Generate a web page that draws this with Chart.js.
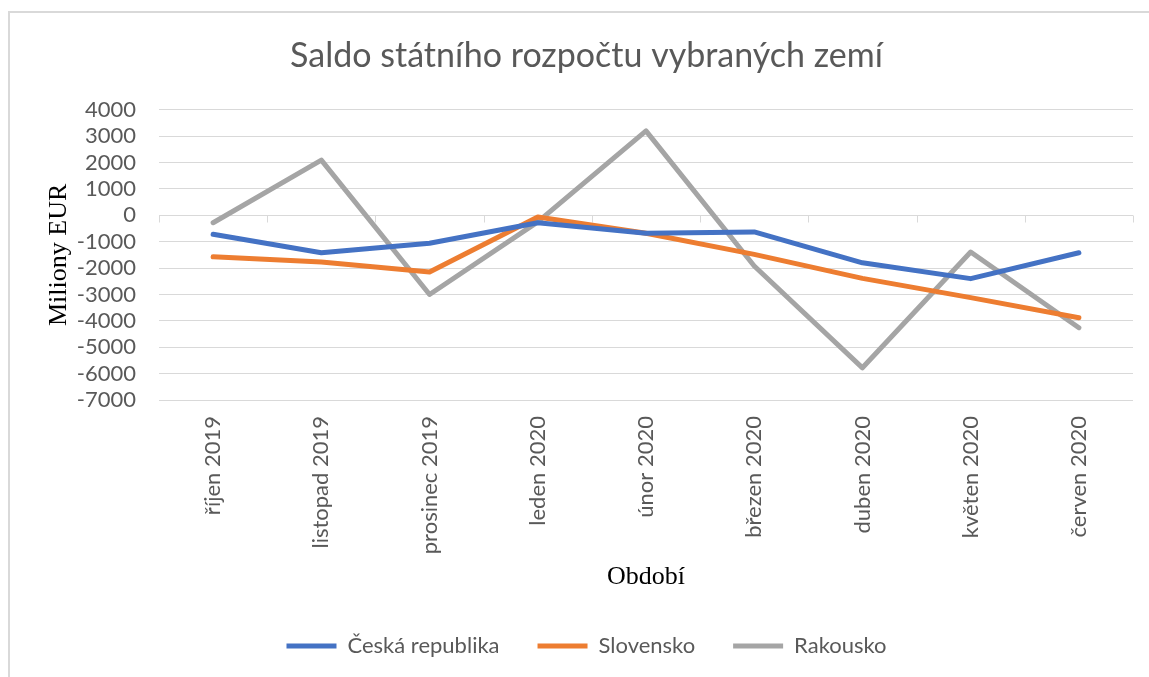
<!DOCTYPE html>
<html>
<head>
<meta charset="utf-8">
<script src="https://cdn.jsdelivr.net/npm/chart.js@4"></script>
<style>
  html, body { margin: 0; padding: 0; background: #ffffff; }
  #wrap { width: 1149px; height: 677px; }
</style>
</head>
<body>
<div id="wrap"><canvas id="c" width="1149" height="677"></canvas></div>
<script>
const categories = ['říjen 2019', 'listopad 2019', 'prosinec 2019', 'leden 2020', 'únor 2020', 'březen 2020', 'duben 2020', 'květen 2020', 'červen 2020'];
const ceskaRepublika = [-720, -1420, -1060, -280, -680, -630, -1800, -2400, -1420];
const slovensko = [-1570, -1770, -2150, -60, -680, -1480, -2390, -3120, -3880];
const rakousko = [-280, 2090, -3000, -250, 3200, -1920, -5780, -1390, -4260];
const seriesNames = ['Česká republika', 'Slovensko', 'Rakousko'];
const yMin = -7000, yMax = 4000, yStep = 1000;

const TEXT = '#595959';
const GRID = '#D9D9D9';

const framePlugin = {
  id: 'frame',
  beforeDraw(chart) {
    const ctx = chart.ctx;
    ctx.save();
    ctx.strokeStyle = GRID;
    ctx.lineWidth = 2;
    ctx.beginPath();
    ctx.moveTo(9, chart.height + 5);
    ctx.lineTo(9, 12);
    ctx.lineTo(chart.width + 5, 12);
    ctx.stroke();
    ctx.restore();
  }
};

const axisTicksPlugin = {
  id: 'axisTicks',
  beforeDatasetsDraw(chart) {
    const x = chart.scales.x, y = chart.scales.y;
    const y0 = Math.round(y.getPixelForValue(0)) + 0.5;
    const ctx = chart.ctx;
    ctx.save();
    ctx.strokeStyle = GRID;
    ctx.lineWidth = 1;
    ctx.beginPath();
    for (let i = 0; i <= categories.length; i++) {
      const px = Math.round(x.getPixelForValue(i - 0.5)) + 0.5;
      ctx.moveTo(px, y0);
      ctx.lineTo(px, y0 + 7);
    }
    ctx.stroke();
    ctx.restore();
  }
};

function ds(label, data, color) {
  return {
    label, data,
    borderColor: color, backgroundColor: color,
    borderWidth: 5, pointRadius: 0, pointHoverRadius: 0,
    tension: 0, borderCapStyle: 'round', borderJoinStyle: 'round', fill: false
  };
}

new Chart(document.getElementById('c'), {
  type: 'line',
  data: {
    labels: categories,
    datasets: [
      ds(seriesNames[0], ceskaRepublika, '#4472C4'),
      ds(seriesNames[1], slovensko, '#ED7D31'),
      ds(seriesNames[2], rakousko, '#A5A5A5')
    ]
  },
  options: {
    responsive: false,
    animation: false,
    layout: { padding: { left: 40, right: 16, top: 0, bottom: 10 } },
    plugins: {
      title: {
        display: true,
        text: 'Saldo státního rozpočtu vybraných zemí',
        color: TEXT,
        font: { family: 'Lato', size: 34, weight: 'normal', lineHeight: 1.2 },
        padding: { top: 36, bottom: 33 }
      },
      legend: {
        position: 'bottom',
        labels: {
          color: TEXT,
          font: { family: 'Lato', size: 22 },
          usePointStyle: true,
          pointStyle: 'line',
          pointStyleWidth: 50,
          padding: 38
        }
      },
      tooltip: { enabled: false }
    },
    scales: {
      x: {
        type: 'category',
        offset: true,
        grid: { display: false },
        border: { display: false },
        ticks: {
          color: TEXT,
          font: { family: 'Lato', size: 22 },
          minRotation: 90, maxRotation: 90,
          padding: 8,
          autoSkip: false
        },
        title: {
          display: true,
          text: 'Období',
          color: '#000000',
          font: { family: 'Liberation Serif', size: 26, lineHeight: 1.2 },
          padding: { top: 0, bottom: 4 }
        },
        afterFit(scale) { scale.height = 197; }
      },
      y: {
        min: yMin, max: yMax,
        grid: { color: GRID, lineWidth: 1, drawTicks: false },
        border: { display: false },
        ticks: {
          stepSize: yStep,
          autoSkip: false,
          color: TEXT,
          font: { family: 'Lato', size: 22 },
          padding: 23,
          callback: (v) => String(v)
        },
        title: {
          display: true,
          text: 'Miliony EUR',
          color: '#000000',
          font: { family: 'Liberation Serif', size: 26, lineHeight: 1.2 },
          padding: { top: 4, bottom: 0 }
        },
        afterFit(scale) { scale.width = 119; }
      }
    }
  },
  plugins: [framePlugin, axisTicksPlugin]
});
</script>
</body>
</html>
